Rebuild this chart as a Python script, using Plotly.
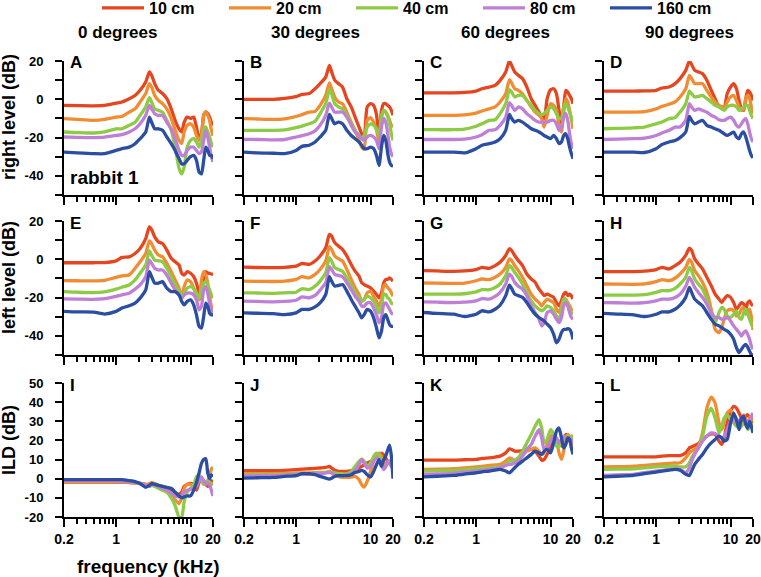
import math
import plotly.graph_objects as go

# ---------------- data ----------------
freq = [0.2, 0.3, 0.5, 0.7, 1.0, 1.2, 1.5, 1.8, 2.1, 2.5, 2.8, 3.0, 3.3, 3.7, 4.2, 4.8,
        5.5, 6.2, 7.0, 7.6, 8.2, 9.0, 10, 11, 12, 13, 14, 15, 16, 17, 18, 19, 20]

series_names = ["10 cm", "20 cm", "40 cm", "80 cm", "160 cm"]
series_colors = ["#E5461F", "#F28C32", "#8DCB45", "#BF7FD6", "#2B4EA2"]
column_titles = ["0 degrees", "30 degrees", "60 degrees", "90 degrees"]
row_titles = ["right level (dB)", "left level (dB)", "ILD (dB)"]
panel_letters = ["A", "B", "C", "D", "E", "F", "G", "H", "I", "J", "K", "L"]
x_tick_vals = [0.2, 1, 10, 20]
x_tick_text = ["0.2", "1", "10", "20"]
x_minor_vals = [0.3, 0.4, 0.5, 0.6, 0.7, 0.8, 0.9, 2, 3, 4, 5, 6, 7, 8, 9]
level_ticks = [-50, -40, -30, -20, -10, 0, 10, 20]
level_tick_text = ["", "-40", "", "-20", "", "0", "", "20"]
ild_ticks = [-20, -10, 0, 10, 20, 30, 40, 50]
ild_tick_text = ["-20", "-10", "0", "10", "20", "30", "40", "50"]

# right level, 0 degrees (A)
A = [
    [-3.2,-3.3,-3.4,-3.2,-2,-1.4,0.3,2,4.7,9,14.3,12.5,8.2,4.7,3,0.3,-5,-11,-15.4,-17,-12,-9.3,-10,-9.3,-14.5,-20.6,-18,-8.4,-6.6,-7.5,-9.3,-12,-13.6],
    [-10.1,-10.5,-11,-10.5,-9.3,-9,-6.7,-5,-1.4,3,8.2,6.4,2,-0.6,-2.3,-5,-10,-16,-21.5,-23,-17,-13.6,-12.8,-14.5,-18.9,-21.5,-18.9,-8.4,-6.6,-8.4,-11,-16,-19],
    [-17.1,-17.4,-17.6,-17,-15.4,-15.4,-13.6,-12,-8.4,-4,0.8,-1.4,-5,-5.8,-6.7,-11,-16.2,-25,-36,-39,-35.4,-25,-21.5,-20.6,-22.3,-25,-21.5,-15.4,-14.5,-17,-19.7,-23,-25],
    [-19.7,-19.9,-20,-19.8,-18.9,-18.5,-17.1,-15.4,-12.8,-8.4,-3.2,-5,-7.5,-8.4,-8.4,-12,-15.4,-20.6,-26.7,-29.3,-29.3,-26.7,-25,-25,-26.7,-28.4,-27.5,-21.5,-16.2,-19.7,-25,-30,-32.8],
    [-27.6,-28,-28.4,-28.4,-26.7,-25.8,-25,-23.2,-20.6,-17.1,-9.3,-12,-15.4,-15.4,-16.2,-19.7,-23.2,-26.7,-31,-33.7,-33.7,-31.9,-30,-29.3,-31.9,-38,-39,-31.9,-25,-26.7,-29.3,-29.3,-31],
]
# right level, 30 degrees (B)
B = [
    [0,0,0,0.5,1.4,2.6,3,5.5,8.2,11.6,17.7,14.3,10,8.2,6.4,0.3,-4,-9.3,-14.5,-18,-20.6,-4,-2.3,-3.2,-8,-20,-6,-2.3,-2.3,-3.2,-4,-5.8,-8.4],
    [-10.1,-10.3,-10.5,-10.2,-9,-8,-6.7,-6.3,-3.2,2,8.5,5.5,1.2,-1.4,-2.3,-6.7,-12,-16.2,-21.5,-25,-26,-11,-9.6,-12,-16,-22,-9,-5.8,-6.7,-8.4,-11,-13.6,-14.5],
    [-16.2,-16.2,-16.2,-16,-14.8,-14,-12.8,-11.5,-7.5,-2.3,5,2.9,-2.3,-4,-5,-8.4,-12.8,-16.2,-18.9,-20.6,-19,-14.5,-12.8,-13.6,-15.4,-19,-9.3,-5.8,-6.7,-9.3,-12.8,-18,-21.5],
    [-21,-21,-21.2,-21,-19.7,-19,-18,-16.5,-13.6,-8.4,-2,-4,-6.7,-6.7,-6.7,-9.3,-13.6,-17.1,-18.9,-20.6,-21.5,-19.7,-18.9,-19.7,-21.5,-25.8,-14.5,-10,-12,-18,-25,-28.4,-30],
    [-27.6,-28,-28.2,-28.4,-26.7,-24.6,-24,-22.3,-19.7,-16.2,-7.9,-10,-12.8,-11.9,-12.8,-16.2,-18.9,-20.6,-22.3,-24,-25.8,-25.8,-25,-25.8,-29.3,-34.5,-25,-18.9,-21.5,-28.4,-32.8,-34.5,-35],
]
# right level, 60 degrees (C)
C = [
    [3.4,3.4,3.4,3.6,4.3,5.5,6.4,7.3,9.9,14.3,20,17.7,14.3,12.5,10.8,6.4,0.3,-3.2,-6.7,-9.3,-10.1,0.3,5,5.5,2.9,-5.8,-12.8,-4,4.7,3.8,2,0.3,-2.3],
    [-8.4,-8.4,-8.4,-8.2,-7.2,-6.1,-5,-4,-1.4,2.9,10.2,8.5,5.5,4.7,2.9,-0.6,-4,-6.7,-8.4,-10,-14.5,-8.4,-2.3,-3.2,-5.8,-13.6,-17.1,-6.7,0.3,-1.4,-5.8,-10,-15.4],
    [-15.9,-15.9,-15.9,-15.6,-14.1,-12.8,-11,-10.7,-7.5,-2.3,5,3.8,1.2,2,2,-0.6,-3.2,-5.8,-7.5,-7.9,-7.5,-5.8,-4,-5,-7.5,-10.1,-10.1,-4,-2.3,-4,-6.7,-10,-12.8],
    [-21,-21,-21,-20.8,-19.7,-18.5,-16.2,-15.9,-13.6,-9.3,-1.8,-3.2,-5.8,-4,-5,-7.5,-9.3,-11,-11.9,-11.9,-11.9,-11.9,-11,-11,-12.8,-16.2,-14.5,-9.3,-7.5,-11,-18,-23.2,-25.8],
    [-27.6,-27.6,-27.6,-28,-25.8,-24,-23.2,-22.3,-20.6,-16.2,-7.9,-10,-11.9,-11,-11.9,-13.6,-15.4,-16.2,-17.1,-18,-18.9,-19.7,-20.6,-18.9,-20.6,-23.2,-22.3,-18.9,-18,-20.6,-25,-28.4,-31],
]
# right level, 90 degrees (D)
D = [
    [4.3,4.3,4.3,4.4,4.7,5.9,6.4,8.2,10.8,15.1,20,18.2,15.1,14.3,13.4,9.9,4.7,0.3,-4,-4,-4.9,2.9,6.4,8.2,5.5,-0.6,-5,-5.8,0.3,4.7,3.8,2,-0.6],
    [-6.7,-6.7,-6.7,-6.5,-5,-3.7,-2.6,-1.4,1.2,5.5,12.5,10.8,8.2,8.2,8.2,4.7,1.2,-1.4,-3.2,-4,-5,-1.4,1.2,2,-0.6,-4,-5.8,-5,0.3,2,0.3,-4,-7.5],
    [-15.4,-15.2,-14.9,-14.5,-12.8,-11.9,-10.1,-9.6,-6.7,-2.3,4.3,2.9,1.2,1.5,2,0.3,-1.4,-3.2,-4,-5,-5.8,-4,-3.2,-3.2,-4,-5.8,-5,-4,-3.2,-3.2,-5.8,-8.4,-10.1],
    [-21,-20.8,-20.6,-20.3,-18.9,-17.6,-16.2,-14.5,-14.5,-11,-2.3,-4,-5.8,-5,-5.8,-6.7,-8.4,-9.3,-10.7,-11,-11,-10.1,-9.3,-11,-13.6,-14.5,-12.8,-11,-10.1,-12.8,-17.1,-20.6,-22.3],
    [-27.6,-27.6,-27.6,-27.8,-25.8,-23.6,-22.3,-21.5,-20,-17.1,-8.9,-11,-12.8,-11.9,-11,-13.6,-14.5,-15.4,-16.2,-17.1,-18,-18.9,-18,-17.1,-19.7,-20.6,-18,-17.1,-19.7,-23.2,-26.7,-29.3,-30.5],
]
# left level, 0 degrees (E)
E = [
    [-1.8,-1.8,-1.8,-1.7,-0.8,1,1.3,3,5.6,10.8,16.9,15.5,11.7,9.1,8.2,4.8,0.5,-1.3,-3,-7.3,-8.2,-6.5,-7.3,-9,-12.5,-17.7,-21,-9,-6.5,-7.3,-7.3,-7.7,-7.7],
    [-11.1,-11.2,-11.3,-11,-9.4,-8.7,-8.2,-4.7,-1.3,3,9.6,8.2,4.8,2.2,1.3,-2.1,-6.5,-10.8,-15.1,-20.3,-14.3,-10.8,-11.7,-15.1,-19.4,-21.2,-10.8,-6.5,-8.2,-12.5,-19.4,-24.6,-27.2],
    [-16.9,-17.2,-17.4,-17,-15.6,-14.6,-13.4,-10.8,-7.3,-3,4.4,2.2,-0.4,-0.8,-1.3,-4.7,-9.1,-13.4,-16.9,-19.4,-17.7,-15.1,-14.3,-15.1,-17.7,-20.3,-16,-12.5,-11.7,-13.4,-16,-18.6,-20.3],
    [-20.7,-20.8,-20.9,-20.6,-19.4,-18.6,-17.7,-15.6,-13.4,-9.1,-0.4,-2.1,-4.7,-5.6,-5.6,-8.2,-12.5,-16,-18.6,-20.3,-18.6,-17.7,-17.7,-18.6,-21.2,-26.4,-24.6,-16,-14.3,-17.7,-22.9,-26.4,-29],
    [-27.2,-27.5,-27.6,-28.6,-27.2,-25.5,-24.3,-22.9,-20.3,-16,-6.5,-9.1,-12.5,-12.5,-11.7,-15.1,-16.9,-16.9,-18.6,-22,-23.8,-22,-21.2,-23.8,-29,-35,-35.9,-29.8,-22.9,-24.6,-28.1,-29,-29],
]
# left level, 30 degrees (F)
F = [
    [-4.1,-4.3,-4.4,-4.2,-3.6,-2.2,-2.7,-0.9,1.7,6,13,12.1,8.7,6.9,5.2,1.7,-2.7,-6.2,-8.8,-12.3,-13.2,-14,-14.9,-16.6,-18.4,-20.1,-17.5,-12.3,-10.5,-10.5,-9.7,-10.5,-11.4],
    [-11.4,-11.5,-11.6,-11.4,-10.5,-9.1,-9.7,-7.9,-5.3,-0.9,6.6,5.2,1.7,0.3,-0.9,-5.3,-10.5,-14.9,-18.4,-21.9,-21,-17.5,-16.6,-19.3,-21.9,-24.5,-21,-14,-13.2,-14.9,-15.8,-17.5,-19.3],
    [-17.5,-17.6,-17.8,-17.5,-17.2,-15.4,-15.8,-14,-11.4,-7,0.8,-0.9,-4.4,-5.3,-6.2,-9.7,-14,-17.5,-20.1,-21.9,-21,-19.3,-20.1,-21.9,-24.5,-28,-24.5,-18.4,-18.4,-20.1,-21,-22.8,-23.6],
    [-21.9,-22,-22.2,-22,-21.4,-19.6,-20.1,-18.9,-16.1,-12.3,-3.9,-5.3,-7.9,-8.4,-9.1,-12.3,-15.8,-19.3,-21.9,-24.5,-24.5,-22.8,-22.8,-25.4,-28.9,-33.2,-30.6,-23.6,-22.8,-24.5,-26.2,-28,-28.9],
    [-28,-28.2,-28.4,-28.9,-28,-26.2,-26.2,-24.9,-22.8,-18.4,-9.1,-11.4,-14,-13.7,-13.2,-16.6,-21,-24.5,-28,-30.6,-28.9,-26.2,-27.1,-30.6,-35.8,-41,-37.6,-30.6,-28.9,-31.5,-34.1,-35,-35],
]
# left level, 60 degrees (G)
G = [
    [-5.9,-6.1,-6.3,-6.1,-5.4,-4.2,-4.7,-3.3,-1.5,2,5.5,4.6,2,-0.7,-3.3,-7.7,-10.3,-12,-15.6,-17.3,-19,-18.2,-19,-19.9,-22.6,-24.3,-21.7,-18.2,-17.3,-19,-18.2,-19,-20.8],
    [-12.4,-12.5,-12.6,-12.4,-11.2,-10.3,-10.6,-9.4,-7.7,-4.2,0.2,-0.7,-3.3,-5.9,-9.4,-13.8,-18.2,-20.8,-22.6,-24.3,-22.6,-20.8,-21.7,-22.6,-26.1,-27.8,-24.3,-20.8,-20.8,-22.6,-24.3,-26.1,-26.9],
    [-18.2,-18.2,-18.2,-18,-17,-15.9,-15.9,-14.7,-12.9,-8.5,-3.3,-4.2,-6.8,-9.4,-12.9,-17.3,-21.7,-24.3,-26.1,-26.9,-26.1,-24.3,-25.2,-26.9,-29.6,-31.3,-26.9,-20.8,-21.7,-24.3,-26.1,-27.8,-28.7],
    [-22.2,-22.4,-22.6,-22.4,-21.7,-20.5,-20.8,-19.4,-17.3,-12.9,-7.7,-8.9,-12,-14.1,-15.6,-19,-24.3,-27.8,-31.3,-34.8,-33.1,-27.8,-26.9,-28.7,-31.3,-33.1,-30.4,-24.3,-22.6,-24.3,-27.8,-30.4,-31.3],
    [-27.8,-28.3,-28.7,-29.9,-28.7,-26.9,-27.5,-26.1,-24,-19,-13.5,-15.2,-18.2,-19,-19.9,-22.6,-26.1,-28.7,-30.4,-31.3,-32.2,-33.9,-35.7,-39.2,-43.6,-41.8,-38.3,-36.6,-36.6,-36.3,-36.6,-38.3,-41.8],
]
# left level, 90 degrees (H)
H = [
    [-6.4,-6.4,-6.4,-6.2,-5.4,-4.2,-5,-3.3,-1.5,2,5.8,4.6,0.2,-2.4,-5,-9.4,-13.8,-18.2,-20.8,-22.6,-20.8,-19,-19.9,-22.6,-26.1,-24.3,-22.6,-23.4,-26.1,-22.6,-21.7,-23.4,-24.3],
    [-12.9,-13,-13.1,-12.9,-11.7,-10.6,-11.2,-9.9,-7.7,-4.2,-0.1,-1.5,-5.9,-8.5,-12,-17.3,-26.1,-36.6,-38.3,-35.7,-31.3,-26.9,-26.1,-26.9,-29.6,-28.7,-26.1,-25.2,-28.7,-26.9,-26.1,-30,-37],
    [-18.7,-18.7,-18.7,-18.5,-17.3,-16.4,-16.4,-15.2,-12.9,-9.4,-4.2,-5.9,-10.3,-12.9,-15.6,-20.8,-28.7,-33.1,-27.8,-25.2,-26.1,-29.6,-30.4,-28.7,-26.9,-30.4,-31.3,-27.8,-26.1,-28.7,-31.3,-33.9,-35.7],
    [-22.6,-22.7,-22.9,-22.6,-21.7,-20.8,-20.8,-19.9,-18.2,-14.1,-9.4,-11.2,-14.7,-17.3,-19.9,-23.4,-27.8,-30.4,-30.4,-31.3,-31.3,-30.4,-32.2,-34.8,-36.6,-38.3,-40.1,-38.3,-37.4,-39.2,-41.8,-45.3,-47],
    [-28.3,-28.6,-29,-29.9,-28.7,-27.5,-27.5,-26.1,-24,-19.9,-14.7,-17.3,-20.8,-22.6,-24.3,-27.8,-31.3,-33.9,-34.8,-35.7,-36.6,-37.4,-39.2,-41.8,-46.2,-48.8,-47,-45.3,-44.4,-46,-48,-49.7,-50],
]
# ILD, 0 degrees (I)
I = [
    [-1.8,-1.8,-1.8,-1.8,-1.8,-1.8,-2,-2.2,-2.5,-3,-3.5,-3.5,-3,-3.5,-4,-5,-6,-7.5,-8,-7,-4,-3,-2.5,-3,-6,-2,-1,-2,-3,-4,-3,-1,-2],
    [-1.5,-1.5,-1.5,-1.5,-1.5,-1.6,-1.8,-2.2,-2.5,-3,-2.5,-2,-2.5,-3.5,-5,-7,-8.5,-11,-13,-10,-5,-3,-3,-4,-3,1,0,-1,-2,-1,2,5,6],
    [-1,-1,-1,-1,-1,-1.2,-1.5,-2,-2.5,-3.5,-4,-3.5,-4,-5,-6,-7,-10,-14,-20,-20,-12,-7,-5,-3,1,2,-1,-3,-2,-1,-2,-3,-2],
    [-1,-1,-1,-1,-1,-1.2,-1.5,-2,-2.5,-3.5,-4,-3,-3,-4,-5,-6,-7.5,-9,-9.5,-8.5,-7,-6,-5.5,-5,-4,-1,1,-1,-3,-2,-3,-6,-9],
    [-0.5,-0.5,-0.5,-0.5,-0.5,-0.5,-1,-1.5,-2.5,-4.5,-3.5,-2.5,-3,-3.5,-4,-4.5,-5,-7,-9,-10,-9.5,-9,-9,-6,-2,3,8,10,10.5,3,0,2,1],
]
# ILD, 30 degrees (J)
J = [
    [4.2,4.2,4.2,4.4,4.7,5,5.2,5.4,5.6,5.9,6.4,5.6,4.4,3.8,3.8,3.8,4.2,4.7,5.6,6.4,7.3,8.2,9,10,10.8,12.5,13.4,12.5,10.8,9,8.2,10,9],
    [2.6,2.6,2.6,2.8,3,3,3,3.2,3.3,3.3,3.8,3,2.1,1.2,0.7,0.7,0.9,1.2,-0.5,-3.1,-4.4,-1.4,3.8,9.1,11.7,13.4,11.7,9.1,7.3,8.2,9,8.2,7.3],
    [2.1,2.1,2.1,2.3,2.6,2.6,2.6,2.8,3,3.3,3.8,3.5,3,2.6,2.6,2.6,3.8,6.4,9.1,10.3,9.1,6.4,8.2,11.7,13.4,12.5,8.2,5.6,6.4,8.2,9,7.3,6.4],
    [1.6,1.6,1.6,1.9,2.3,2.4,2.5,2.6,2.6,3,3.3,3,2.1,1.6,1.6,2,2.6,4.4,7.3,9.9,8.2,5.6,6.4,9.1,10.8,9.9,7.3,4.7,6.4,9.1,8.2,6.4,5.6],
    [0.3,0.5,0.7,1.2,1.6,2.6,2.6,2.1,1.2,0.3,-0.2,0.3,1.2,1.6,1.6,1.6,2.1,3.3,3.8,4.4,3.8,2.1,0.9,3.8,7.3,9.9,6.4,9.9,12,15,17.5,12,0],
]
# ILD, 60 degrees (K)
K = [
    [9.7,9.7,9.7,9.9,10.1,10.6,10.9,11.3,11.8,13.5,15.6,15.3,14.4,14.4,14.7,15.3,15.3,14.4,11.8,9.7,10.1,12.7,16.1,19.6,20.5,18.7,17,19.6,23.1,22.2,20.5,18.7,16.1],
    [4.9,5,5.2,5.7,6.2,6.5,6.9,7.2,7.5,9.2,10.9,10.4,9.7,10.9,12.7,14.4,15.3,16.1,14.4,12.7,13.5,17.9,22.2,23.1,19.6,13.5,10.1,14.4,20.5,23.1,22.2,18.7,16.1],
    [4,4.2,4.3,4.8,5.2,5.4,5.7,6,6.2,7.5,9.2,9.2,9.7,10.9,14.4,18.7,23.1,27.4,30.8,26.5,18.7,20.5,25.6,23.1,17,17,18.7,20.5,20.5,22.2,19.6,20.5,23.1],
    [2.3,2.5,2.8,3.4,4,4.4,4.9,5.3,5.7,6.9,7.5,7.5,8.3,9.2,11.8,15.3,17.9,22.2,25.6,21.3,15.3,16.1,19.6,22.2,21.3,18.7,20.5,22.2,20.5,19.6,21.3,20.5,18.7],
    [1,1.3,1.7,2.4,3.1,3.6,4,4.5,4.9,4,3.1,4,5.7,7.5,9.2,10.9,12.7,14.4,13.5,12.7,14.4,15.3,13.5,18.7,24.8,26.5,21.3,16.1,17.9,21.3,20.5,16.1,12.7],
]
# ILD, 90 degrees (L)
L = [
    [11.4,11.4,11.4,11.4,11.4,11.8,12.1,12.1,12.1,13.5,16.1,16.6,17.3,18.4,20.5,22.2,23.4,23.1,19.6,17.9,21.3,29.1,35.2,37.8,36.9,34.3,31.7,30,32.6,33.4,31.7,30,29.1],
    [6.2,6.3,6.6,7,7.5,7.7,8,8.2,8.3,10.9,13.5,14.4,15.3,17,23.9,36.9,42.6,39.5,29.1,25.6,29.1,34.3,36,33.4,30.8,30,31.7,33.4,30.8,29.1,31.7,32.6,30],
    [4.9,5,5.2,5.7,6.2,6.4,6.6,6.4,6.2,6.2,8.3,10.9,13.5,16.1,22.2,32.6,36.9,31.7,23.9,27.4,31.7,33.4,30.8,29.1,27.4,26.5,27.4,29.1,28.3,25.6,27.4,28.3,24.8],
    [1.7,2,2.3,3.2,4,4.4,4.9,4.9,4.9,3.1,5.7,9.2,12.7,16.1,19.6,22.2,23.9,23.6,22.2,21.3,22.2,25.6,30,30.8,29.1,30,31.7,32.6,30,26.5,30,32.6,34.3],
    [1,1.3,1.7,2.6,3.5,4,4.5,4.9,4.4,2.3,1.7,4,7.5,10.1,12.7,16.1,18.7,20.5,22.2,21.3,19.6,20.5,29.1,34.3,30.8,25.6,31.7,32.6,28.3,26.5,30,27.4,23.9],
]

panels = [A, B, C, D, E, F, G, H, I, J, K, L]

# ---------------- layout geometry (pixels) ----------------
W, HT = 761, 577
col_px = [(64, 213), (244, 393), (424, 573), (604, 753)]
row_px = [(61, 195), (221, 355), (383, 517)]
col_title_x = [117, 315, 505, 689]
row_title_y = [117, 278, 440]

FONT = "Liberation Sans, Arial, sans-serif"

def px_x(x):
    return x / W

def px_y(y):
    return 1 - y / HT

fig = go.Figure()
layout = {}
annotations = []

for idx, data in enumerate(panels):
    r, c = divmod(idx, 4)
    k = idx + 1
    xname = "x" if k == 1 else f"x{k}"
    yname = "y" if k == 1 else f"y{k}"
    for s, (name, color) in enumerate(zip(series_names, series_colors)):
        fig.add_trace(go.Scatter(
            x=freq, y=data[s], mode="lines", name=name,
            line=dict(color=color, width=3.3, shape="spline", smoothing=0.6),
            xaxis=xname, yaxis=yname, legendgroup=name,
            showlegend=(idx == 0), hoverinfo="skip",
        ))
    x0, x1 = col_px[c]
    y0, y1 = row_px[r]
    layout["xaxis" if k == 1 else f"xaxis{k}"] = dict(
        domain=[px_x(x0), px_x(x1)], anchor=yname, type="log",
        range=[math.log10(0.2), math.log10(20)],
        showline=True, linecolor="black", linewidth=2, mirror=False,
        ticks="outside", ticklen=8, tickwidth=2, tickcolor="black",
        tickvals=x_tick_vals, ticktext=x_tick_text, tickangle=0,
        showticklabels=(r == 2), showgrid=False, zeroline=False,
        automargin=False, ticklabeloverflow="allow",
        tickfont=dict(family=FONT, size=14, color="black", weight="bold"),
        minor=dict(tickvals=x_minor_vals, ticks="outside", ticklen=5,
                   tickwidth=2, tickcolor="black", showgrid=False),
    )
    if r < 2:
        yr, tv, tt = [-50, 20], level_ticks, level_tick_text
    else:
        yr, tv, tt = [-20, 50], ild_ticks, ild_tick_text
    layout["yaxis" if k == 1 else f"yaxis{k}"] = dict(
        domain=[px_y(y1), px_y(y0)], anchor=xname, range=yr,
        showline=True, linecolor="black", linewidth=2, mirror=False,
        ticks="outside", ticklen=7, tickwidth=2, tickcolor="black",
        tickvals=tv, ticktext=tt, showticklabels=(c == 0),
        ticklabelstandoff=9, automargin=False,
        showgrid=False, zeroline=False,
        tickfont=dict(family=FONT, size=13, color="black", weight="bold"),
    )
    ly = 63 if r == 0 else y0 + 2
    annotations.append(dict(
        text=panel_letters[idx], x=px_x(x0 + 4), y=px_y(ly), xref="paper", yref="paper",
        xanchor="left", yanchor="middle", showarrow=False,
        font=dict(family=FONT, size=17, color="black", weight="bold"),
    ))

for c, t in enumerate(column_titles):
    annotations.append(dict(
        text=t, x=px_x(col_title_x[c]), y=px_y(33), xref="paper", yref="paper",
        xanchor="center", yanchor="middle", showarrow=False,
        font=dict(family=FONT, size=17, color="black", weight="bold"),
    ))
for r, t in enumerate(row_titles):
    annotations.append(dict(
        text=t, x=px_x(9), y=px_y(row_title_y[r]), xref="paper", yref="paper",
        xanchor="center", yanchor="middle", textangle=-90, showarrow=False,
        font=dict(family=FONT, size=18, color="black", weight="bold"),
    ))
annotations.append(dict(
    text="rabbit 1", x=px_x(68), y=px_y(177), xref="paper", yref="paper",
    xanchor="left", yanchor="middle", showarrow=False,
    font=dict(family=FONT, size=19, color="black", weight="bold"),
))
annotations.append(dict(
    text="frequency (kHz)", x=px_x(148), y=px_y(566), xref="paper", yref="paper",
    xanchor="center", yanchor="middle", showarrow=False,
    font=dict(family=FONT, size=19, color="black", weight="bold"),
))

fig.update_layout(
    **layout,
    annotations=annotations,
    width=W, height=HT,
    margin=dict(l=0, r=0, t=0, b=0, autoexpand=False),
    paper_bgcolor="white", plot_bgcolor="white",
    font=dict(family=FONT, color="black"),
    legend=dict(
        orientation="h", x=px_x(97), y=px_y(8), xanchor="left", yanchor="middle",
        font=dict(family=FONT, size=16, color="black", weight="bold"),
        itemwidth=42, entrywidth=70, entrywidthmode="pixels",
        bgcolor="rgba(0,0,0,0)", tracegroupgap=0,
    ),
)

fig.write_html(
    "out.html",
    config={"displayModeBar": False, "staticPlot": True},
    post_script="document.body.style.margin='0';document.body.style.padding='0';"
                "document.body.style.overflow='hidden';",
)
